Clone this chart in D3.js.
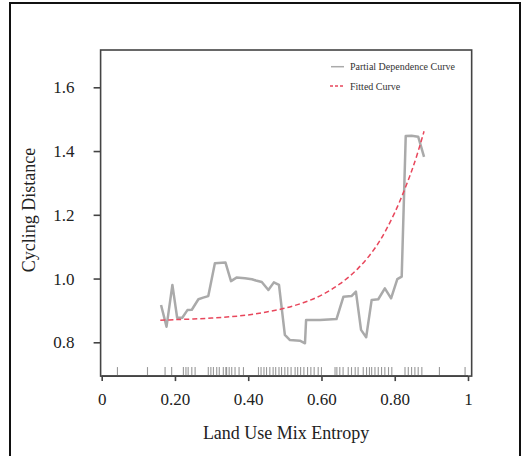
<!DOCTYPE html>
<html><head><meta charset="utf-8">
<script src="https://cdn.jsdelivr.net/npm/d3@7/dist/d3.min.js"></script>
<style>body{margin:0;background:#fff}svg{display:block}</style>
</head><body>
<svg id="c" width="522" height="456"></svg>
<script>
// Partial dependence curve (x, y)
const pdX = [0.162,0.177,0.193,0.206,0.220,0.234,0.246,0.264,0.277,0.291,0.309,0.338,0.353,0.368,0.391,0.410,0.421,0.437,0.455,0.470,0.484,0.500,0.514,0.541,0.555,0.558,0.596,0.641,0.660,0.682,0.694,0.708,0.722,0.737,0.755,0.773,0.790,0.807,0.819,0.830,0.846,0.864,0.880];
const pdY = [0.917,0.849,0.980,0.877,0.877,0.901,0.902,0.935,0.940,0.945,1.048,1.050,0.992,1.003,1.001,0.998,0.994,0.989,0.964,0.988,0.980,0.823,0.807,0.805,0.797,0.870,0.870,0.873,0.943,0.945,0.959,0.839,0.816,0.933,0.935,0.969,0.938,0.998,1.006,1.447,1.448,1.445,1.382];
// Fitted curve (x, y)
const fitX = [0.16,0.20,0.25,0.30,0.35,0.40,0.45,0.50,0.55,0.60,0.65,0.70,0.75,0.80,0.85,0.88];
const fitY = [0.869,0.871,0.873,0.876,0.880,0.886,0.895,0.907,0.924,0.948,0.983,1.032,1.102,1.207,1.350,1.462];
// Rug of observed x values
const rugX = [0.043,0.125,0.173,0.191,0.223,0.230,0.236,0.246,0.255,0.291,0.298,0.305,0.314,0.321,0.332,0.339,0.341,0.348,0.355,0.364,0.375,0.387,0.428,0.435,0.443,0.450,0.459,0.468,0.475,0.484,0.491,0.500,0.508,0.517,0.528,0.535,0.543,0.552,0.562,0.571,0.580,0.591,0.600,0.637,0.642,0.650,0.659,0.673,0.682,0.692,0.700,0.714,0.723,0.731,0.737,0.746,0.755,0.764,0.773,0.783,0.792,0.828,0.837,0.846,0.855,0.864,0.874,0.922,0.992];
const xTicks = [0,0.2,0.4,0.6,0.8,1];
const xTickLabels = ["0","0.20","0.40","0.60","0.80","1"];
const yTicks = [0.8,1.0,1.2,1.4,1.6];
const yTickLabels = ["0.8","1.0","1.2","1.4","1.6"];
const xLimits = [-0.003,1.01];
const yLimits = [0.694,1.717];
const legendLabels = ["Partial Dependence Curve","Fitted Curve"];

const svg = d3.select("#c");
const font = "'Liberation Serif','Times New Roman',serif";
const x = d3.scaleLinear().domain([0,1]).range([101.7,468]);
const y = d3.scaleLinear().domain([0.8,1.6]).range([342.3,87.3]);

// outer frame
svg.append("rect").attr("x",10).attr("y",3).attr("width",510).attr("height",460)
  .attr("fill","none").attr("stroke","#111").attr("stroke-width",2);

// plot box
svg.append("rect")
  .attr("x",x(xLimits[0])).attr("y",y(yLimits[1]))
  .attr("width",x(xLimits[1])-x(xLimits[0])).attr("height",y(yLimits[0])-y(yLimits[1]))
  .attr("fill","none").attr("stroke","#444").attr("stroke-width",1.6);

// rug
svg.append("g").selectAll("line").data(rugX).join("line")
  .attr("x1",d=>x(d)).attr("x2",d=>x(d))
  .attr("y1",y(yLimits[0])-9).attr("y2",y(yLimits[0]))
  .attr("stroke","#888").attr("stroke-width",1.1).attr("opacity",0.85);

// axes
const xa = svg.append("g").attr("transform",`translate(0,${y(yLimits[0])})`)
  .call(d3.axisBottom(x).tickValues(xTicks).tickFormat((d,i)=>xTickLabels[i]).tickSize(5).tickPadding(12));
const ya = svg.append("g").attr("transform",`translate(${x(xLimits[0])},0)`)
  .call(d3.axisLeft(y).tickValues(yTicks).tickFormat((d,i)=>yTickLabels[i]).tickSize(7).tickPadding(19));
[xa,ya].forEach(g=>{
  g.select(".domain").remove();
  g.selectAll("line").attr("stroke","#444").attr("stroke-width",1.6);
  g.selectAll("text").attr("font-family",font).attr("font-size",17).attr("fill","#222");
});
// x axis line from 0 to 1
svg.append("line").attr("x1",x(0)).attr("x2",x(1)).attr("y1",y(yLimits[0])).attr("y2",y(yLimits[0]))
  .attr("stroke","#444").attr("stroke-width",1.6);

// titles
svg.append("text").attr("x",(x(xLimits[0])+x(xLimits[1]))/2).attr("y",439)
  .attr("text-anchor","middle").attr("font-family",font).attr("font-size",18).attr("fill","#222")
  .text("Land Use Mix Entropy");
svg.append("text").attr("transform",`translate(35,${(y(yLimits[0])+y(yLimits[1]))/2-3}) rotate(-90)`)
  .attr("text-anchor","middle").attr("font-family",font).attr("font-size",18).attr("fill","#222")
  .text("Cycling Distance");

// lines
const pd = pdX.map((d,i)=>[d,pdY[i]]);
const fit = fitX.map((d,i)=>[d,fitY[i]]);
svg.append("path").datum(pd)
  .attr("d",d3.line().x(d=>x(d[0])).y(d=>y(d[1])))
  .attr("fill","none").attr("stroke","#aaaaaa").attr("stroke-width",2.5).attr("stroke-linejoin","round");
svg.append("path").datum(fit)
  .attr("d",d3.line().x(d=>x(d[0])).y(d=>y(d[1])).curve(d3.curveCatmullRom))
  .attr("fill","none").attr("stroke","#e8475c").attr("stroke-width",1.5).attr("stroke-dasharray","5,3");

// legend
const lg = svg.append("g");
lg.append("line").attr("x1",331).attr("x2",344).attr("y1",66.7).attr("y2",66.7)
  .attr("stroke","#aaaaaa").attr("stroke-width",1.5);
lg.append("line").attr("x1",330).attr("x2",345).attr("y1",86).attr("y2",86)
  .attr("stroke","#e8475c").attr("stroke-width",1.5).attr("stroke-dasharray","3,2");
lg.selectAll("text").data(legendLabels).join("text")
  .attr("x",350).attr("y",(d,i)=>70+i*19.5)
  .attr("font-family",font).attr("font-size",10).attr("fill","#333").text(d=>d);
</script>
</body></html>
